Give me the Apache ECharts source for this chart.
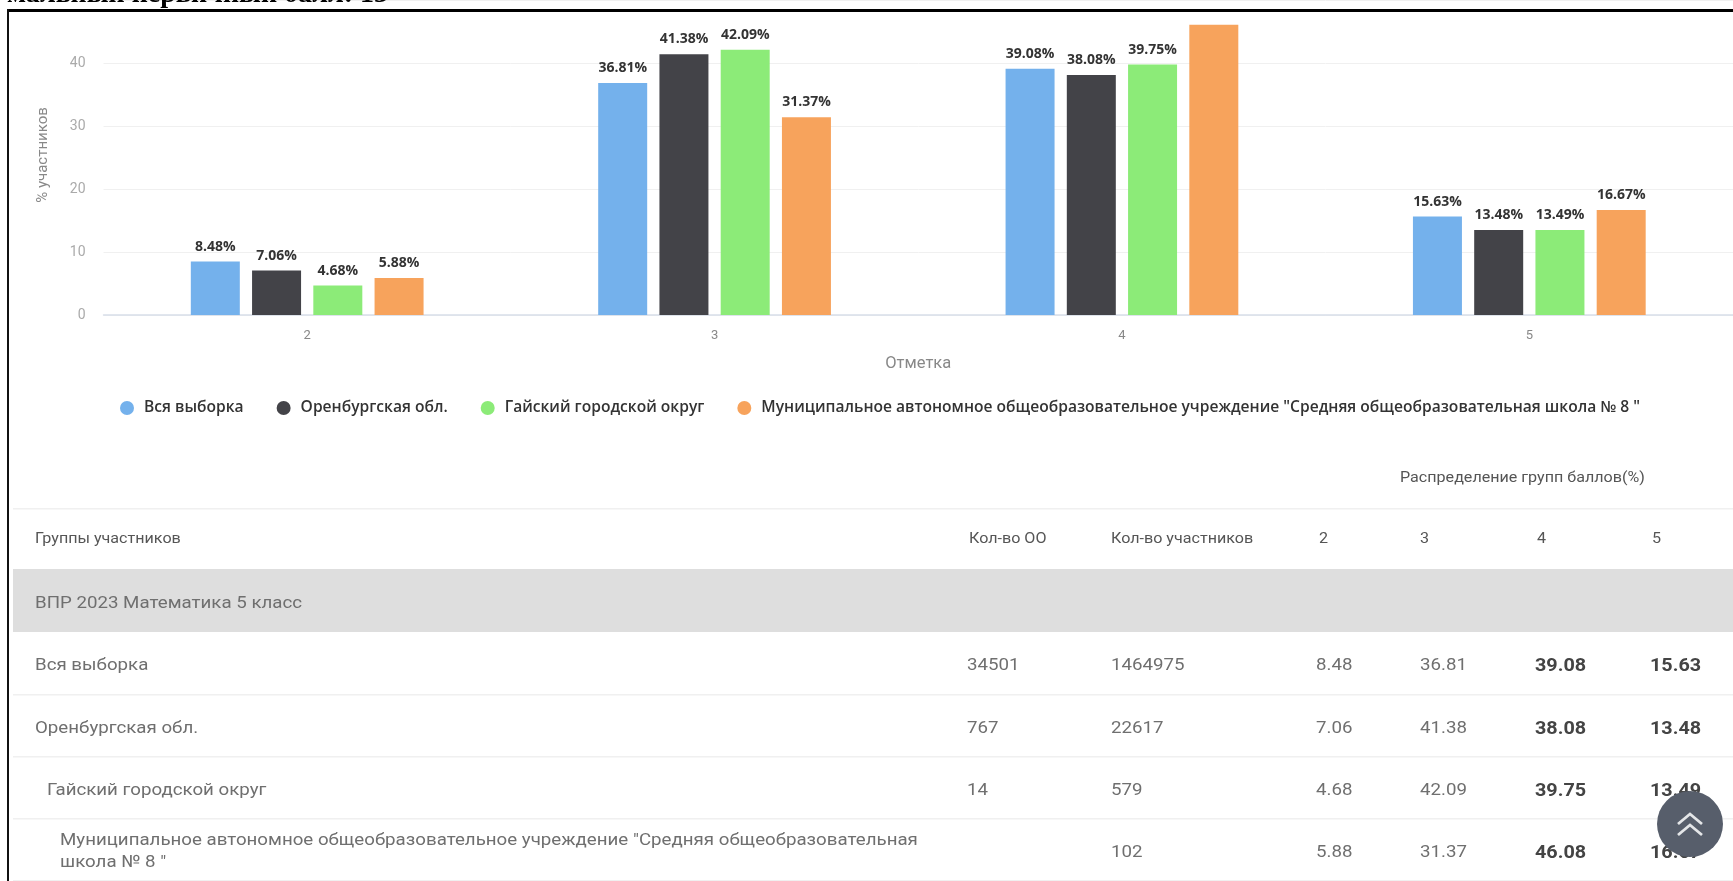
<!DOCTYPE html>
<html><head><meta charset="utf-8">
<style>html,body{margin:0;padding:0;background:#fff;overflow:hidden}#c{width:1733px;height:881px;filter:blur(0.5px)}</style>
<script src="https://cdn.jsdelivr.net/npm/echarts@6/dist/echarts.min.js"></script>
</head><body><div id="c"></div>
<script>
const categories = ['2','3','4','5'];
const seriesNames = ['Вся выборка','Оренбургская обл.','Гайский городской округ','Муниципальное автономное общеобразовательное учреждение "Средняя общеобразовательная школа № 8 "'];
const allSample = [8.48,36.81,39.08,15.63];
const region = [7.06,41.38,38.08,13.48];
const district = [4.68,42.09,39.75,13.49];
const school = [5.88,31.37,46.08,16.67];
const colors = ['#74b1ec','#434348','#8ceb78','#f7a35c'];
const yTicks = [0,10,20,30,40];
const headerTop = 'Распределение групп баллов(%)';
const headerCols = ['Группы участников','Кол-во ОО','Кол-во участников','2','3','4','5'];
const bandTitle = 'ВПР 2023 Математика 5 класс';
const rowNames = [['Вся выборка'],['Оренбургская обл.'],['Гайский городской округ'],['Муниципальное автономное общеобразовательное учреждение "Средняя общеобразовательная','школа № 8 "']];
const rowOO = ['34501','767','14',''];
const rowCount = ['1464975','22617','579','102'];
const pageTitle = 'мальный первичный балл: 13';

const FONT='Roboto', TXT='#6f6f6f';
const seriesValues=[allSample,region,district,school];
const g=[];
const text=(x,y,t,o={})=>g.push({type:'text',z:o.z||10,x,y:y+(o.dy===undefined?2:o.dy),scaleX:o.sx||1,
  style:{x:0,y:0,text:t,fill:o.fill||TXT,font:(o.w||400)+' '+(o.s||17)+'px '+(o.f||FONT),textAlign:o.a||'left',textVerticalAlign:'middle'}});
const rect=(x,y,w,h,fill,z)=>g.push({type:'rect',z:z||5,shape:{x,y,width:w,height:h},style:{fill}});
const body={s:17,sx:1.1}, strong={s:18,sx:1.1,w:700,fill:'#444'}, head={s:14,sx:1.15,fill:'#555'};
// page frame
text(388,-5,pageTitle,{f:'Liberation Serif',w:700,s:28,fill:'#000',z:1,a:'right',dy:0});
rect(7,9,1726,3,'#000',20);
rect(7,9,2,872,'#111',20);
// table
text(1400,476,headerTop,head);
[508,694,756,818,880].forEach(y=>rect(13,y,1720,1.5,'#f0f0f0'));
rect(13,569,1720,63,'#dedede');
const colX=[35,967,1111,1316,1420,1535,1650];
const headX=[35,969,1111,1319,1420,1537,1652];
headerCols.forEach((h,i)=>text(headX[i],539,h,{...head,dy:0}));
text(35,602,bandTitle,body);
const rowY=[664,727,789,851], indent=[35,35,47,60];
rowNames.forEach((r,i)=>{
  if(r.length===1) text(indent[i],rowY[i],r[0],body);
  else {text(indent[i],839,r[0],body);text(indent[i],861,r[1],body);}
  text(colX[1],rowY[i],rowOO[i],body);
  text(colX[2],rowY[i],rowCount[i],body);
  text(colX[3],rowY[i],seriesValues[i][0].toFixed(2),body);
  text(colX[4],rowY[i],seriesValues[i][1].toFixed(2),body);
  text(colX[5],rowY[i],seriesValues[i][2].toFixed(2),strong);
  text(colX[6],rowY[i],seriesValues[i][3].toFixed(2),strong);
});
// scroll-to-top button
g.push({type:'circle',z:30,shape:{cx:1690,cy:824,r:33},style:{fill:'#575e6b'}});
[824,835].forEach(y=>g.push({type:'polyline',z:31,shape:{points:[[1678,y],[1690,y-10],[1702,y]]},style:{stroke:'#e4e6e8',lineWidth:2.8,fill:null}}));
// y-axis title
g.push({type:'text',z:10,x:43,y:155,rotation:Math.PI/2,style:{text:'% участников',fill:'#888',font:'15px '+FONT,textAlign:'center',textVerticalAlign:'middle'}});

const chart=echarts.init(document.getElementById('c'),null,{renderer:'canvas'});
chart.setOption({
  animation:false,
  textStyle:{fontFamily:FONT},
  grid:{left:103.5,width:1631,top:315-50*6.375,height:50*6.375,containLabel:false},
  legend:{left:115,top:395,icon:'circle',itemWidth:14,itemHeight:14,itemGap:33,
    textStyle:{fontFamily:'Open Sans',fontWeight:600,fontSize:15.6,color:'#333',padding:[0,0,0,5]},data:seriesNames},
  xAxis:{type:'category',data:categories,name:'Отметка',nameLocation:'middle',nameGap:40,
    nameTextStyle:{color:'#888',fontSize:16.5},
    axisTick:{show:false},axisLine:{lineStyle:{color:'#d8dee9',width:1.5}},
    axisLabel:{color:'#888',fontSize:13,margin:14}},
  yAxis:{type:'value',min:0,max:50,interval:10,
    axisLabel:{color:'#aaa',fontSize:14,margin:18,showMaxLabel:false,formatter:v=>yTicks.includes(v)?String(v):''},
    splitLine:{lineStyle:{color:'#f0f0f0'}},axisLine:{show:false},axisTick:{show:false}},
  series:seriesValues.map((vals,i)=>({
    type:'bar',name:seriesNames[i],barWidth:49,barGap:'25%',
    itemStyle:{color:colors[i]},
    data:vals.map(v=>({value:v,label:{show:v<46}})),
    label:{show:true,position:'top',distance:8,fontFamily:'Open Sans',fontWeight:700,fontSize:14,color:'#333',formatter:p=>p.value.toFixed(2)+'%'}
  })),
  graphic:g
});
</script></body></html>
